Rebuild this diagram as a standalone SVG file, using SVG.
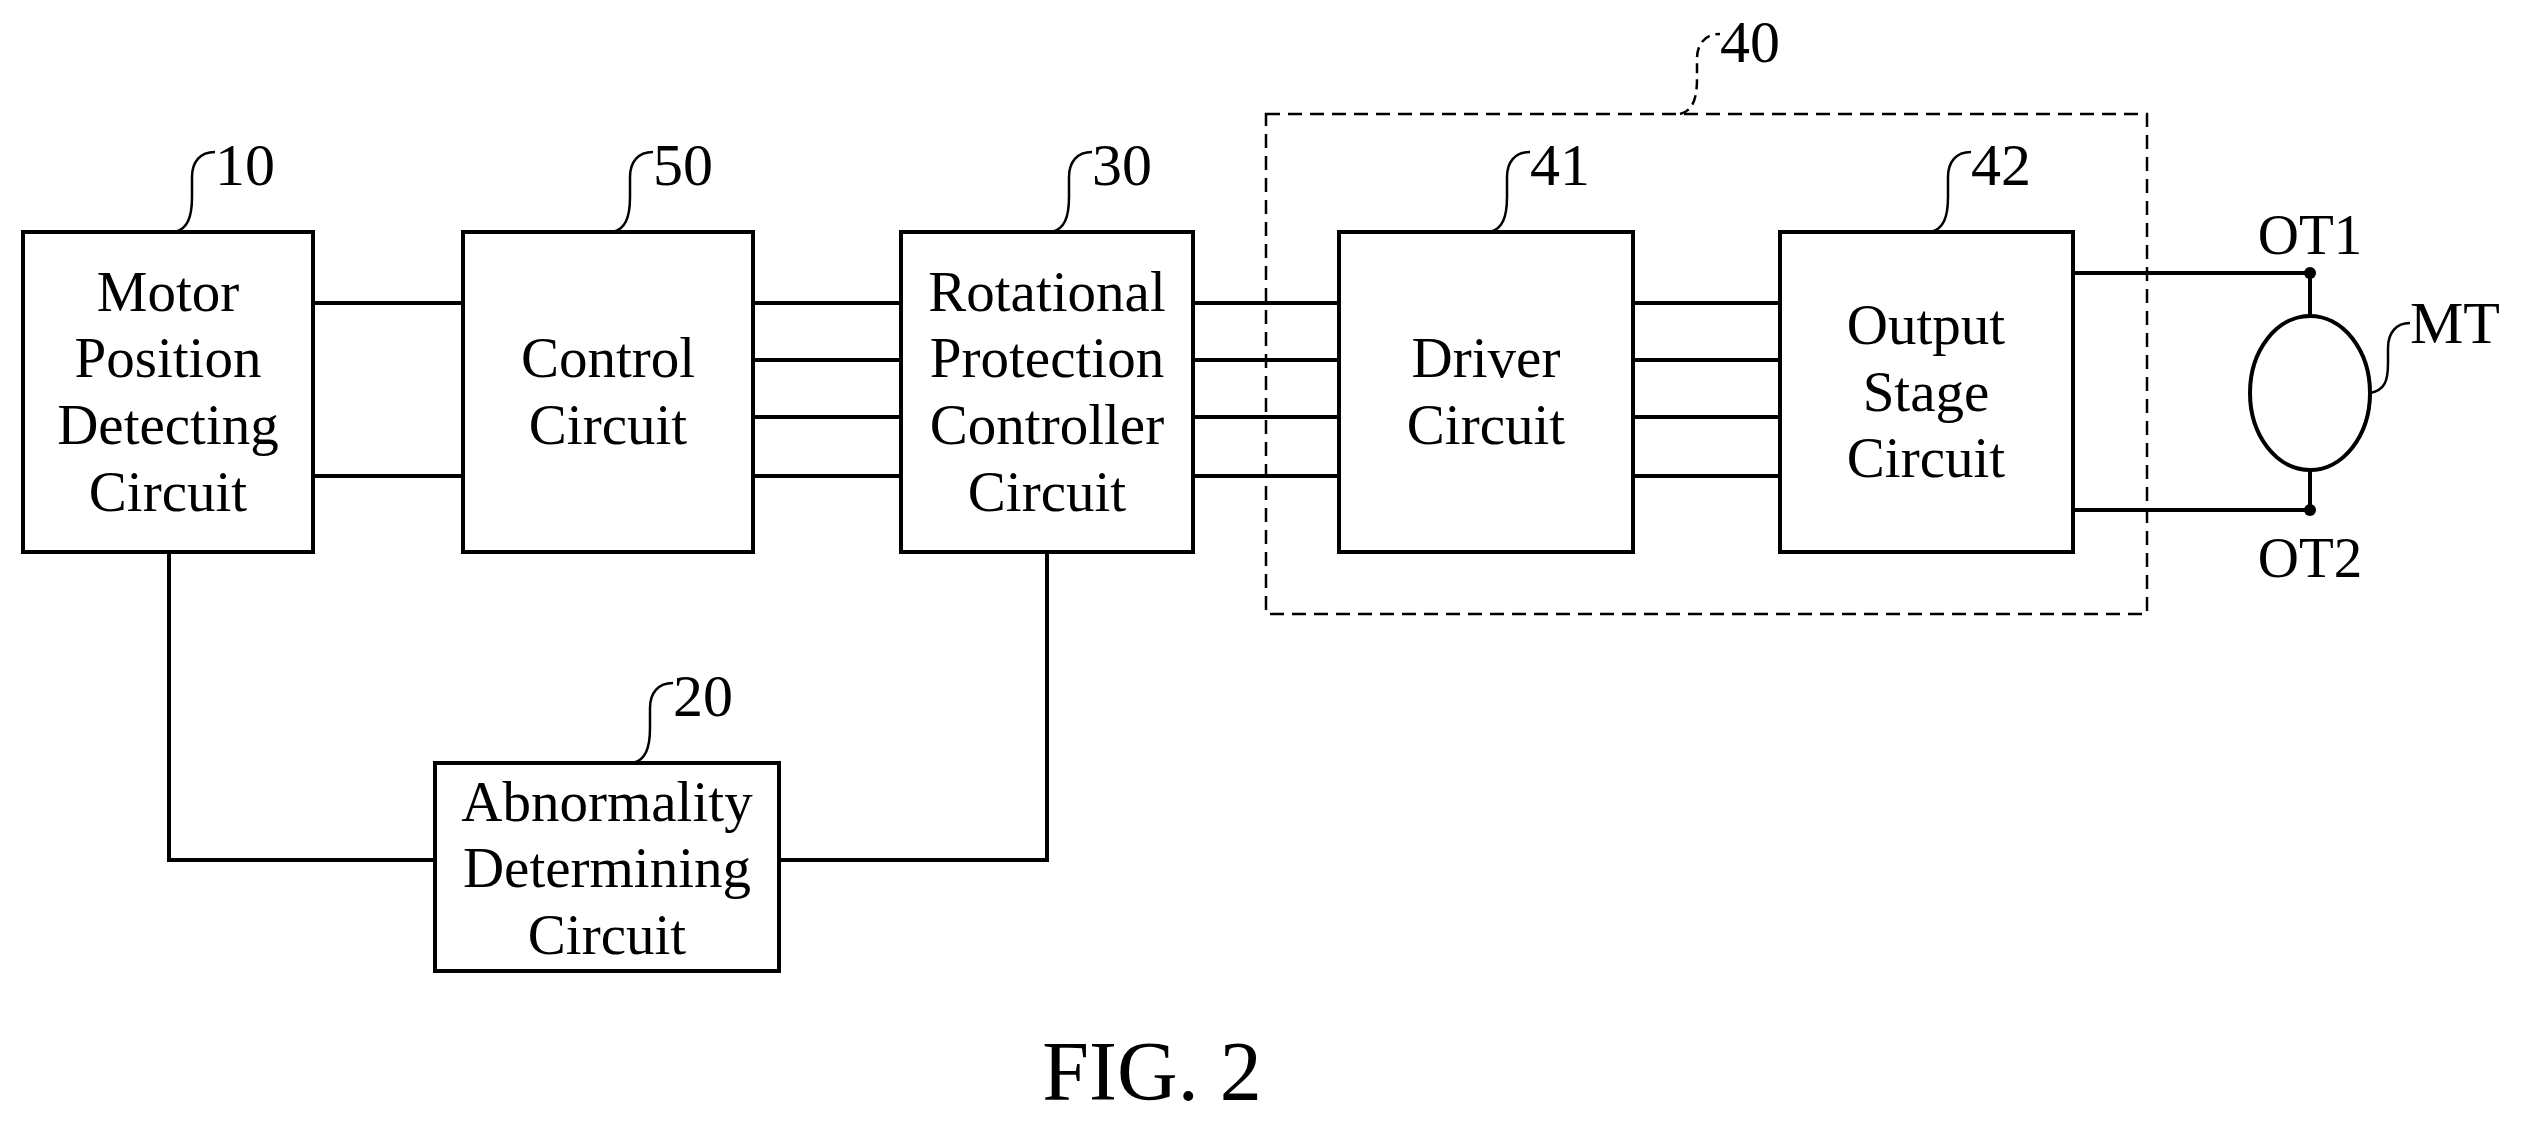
<svg xmlns="http://www.w3.org/2000/svg" width="2545" height="1132" viewBox="0 0 2545 1132">
<style>
.b{fill:#fff;stroke:#000;stroke-width:4}
.l{fill:none;stroke:#000;stroke-width:4}
.ld{fill:none;stroke:#000;stroke-width:2.5}
.d{fill:none;stroke:#000;stroke-width:2.5;stroke-dasharray:14 8}
text{font-family:"Liberation Serif",serif;font-size:57px;text-anchor:middle;fill:#000}
.r{text-anchor:start;font-size:60px}
</style>
<rect id="n40" class="d" x="1266" y="114" width="881" height="500"/>
<g id="connectors">
<path class="l" d="M313,303H463M313,476H463"/>
<path class="l" d="M753,303H901M753,360H901M753,417H901M753,476H901"/>
<path class="l" d="M1193,303H1339M1193,360H1339M1193,417H1339M1193,476H1339"/>
<path class="l" d="M1633,303H1780M1633,360H1780M1633,417H1780M1633,476H1780"/>
<path class="l" d="M169,552V860H435M779,860H1047V552"/>
<path class="l" d="M2073,273H2310V316M2310,471V510H2073"/>
<circle cx="2310" cy="273" r="6"/><circle cx="2310" cy="510" r="6"/>
</g>
<g id="n10"><rect class="b" x="23" y="232" width="290" height="320"/>
<text x="168" y="311">Motor</text><text x="168" y="377">Position</text><text x="168" y="444">Detecting</text><text x="168" y="511">Circuit</text></g>
<g id="n50"><rect class="b" x="463" y="232" width="290" height="320"/>
<text x="608" y="377">Control</text><text x="608" y="444">Circuit</text></g>
<g id="n30"><rect class="b" x="901" y="232" width="292" height="320"/>
<text x="1047" y="311">Rotational</text><text x="1047" y="377">Protection</text><text x="1047" y="444">Controller</text><text x="1047" y="511">Circuit</text></g>
<g id="n41"><rect class="b" x="1339" y="232" width="294" height="320"/>
<text x="1486" y="377">Driver</text><text x="1486" y="444">Circuit</text></g>
<g id="n42"><rect class="b" x="1780" y="232" width="293" height="320"/>
<text x="1926" y="344">Output</text><text x="1926" y="411">Stage</text><text x="1926" y="477">Circuit</text></g>
<g id="n20"><rect class="b" x="435" y="763" width="344" height="208"/>
<text x="607" y="821">Abnormality</text><text x="607" y="887">Determining</text><text x="607" y="954">Circuit</text></g>
<g id="mt"><ellipse class="l" cx="2310" cy="393" rx="60" ry="77"/>
<path class="ld" d="M2370,393c15,-3 18,-12 18,-30v-15c0,-15 8,-25 22,-25"/>
<text class="r" x="2410" y="343">MT</text>
<text x="2310" y="254">OT1</text><text x="2310" y="577">OT2</text></g>
<g id="labels">
<path class="ld" d="M175,232c12,-3 17,-14 17,-35v-20c0,-15 8,-25 23,-25"/><text class="r" x="215" y="185">10</text>
<path class="ld" d="M613,232c12,-3 17,-14 17,-35v-20c0,-15 8,-25 23,-25"/><text class="r" x="653" y="185">50</text>
<path class="ld" d="M1052,232c12,-3 17,-14 17,-35v-20c0,-15 8,-25 23,-25"/><text class="r" x="1092" y="185">30</text>
<path class="ld" d="M1490,232c12,-3 17,-14 17,-35v-20c0,-15 8,-25 23,-25"/><text class="r" x="1530" y="185">41</text>
<path class="ld" d="M1931,232c12,-3 17,-14 17,-35v-20c0,-15 8,-25 23,-25"/><text class="r" x="1971" y="185">42</text>
<path class="ld" stroke-dasharray="10 6" d="M1680,114c12,-3 17,-14 17,-35v-20c0,-15 8,-25 23,-25"/><text class="r" x="1720" y="62">40</text>
<path class="ld" d="M633,763c12,-3 17,-14 17,-35v-20c0,-15 8,-25 23,-25"/><text class="r" x="673" y="716">20</text>
</g>
<text x="1152" y="1100" style="font-size:84px">FIG. 2</text>
</svg>
